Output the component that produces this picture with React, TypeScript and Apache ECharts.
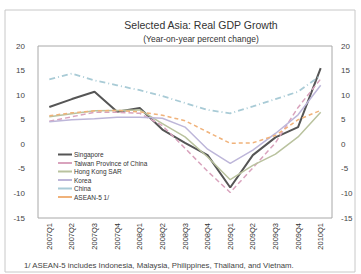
import React, { useEffect, useRef } from "react";
import * as echarts from "echarts";

const categories = [
  "2007Q1", "2007Q2", "2007Q3", "2007Q4",
  "2008Q1", "2008Q2", "2008Q3", "2008Q4",
  "2009Q1", "2009Q2", "2009Q3", "2009Q4", "2010Q1",
];
const singapore = [7.6, 9.2, 10.7, 6.6, 7.4, 3.0, 0.3, -2.2, -8.8, -2.2, 1.4, 3.5, 15.5];
const taiwan = [4.7, 5.6, 6.5, 6.5, 6.3, 3.8, -0.8, -5.5, -9.8, -4.8, 0.3, 7.5, 13.3];
const hongKong = [5.6, 6.2, 6.8, 6.9, 7.0, 4.2, 1.5, -2.6, -7.2, -4.3, -2.0, 1.5, 6.5];
const korea = [4.6, 5.0, 5.2, 5.5, 5.5, 5.3, 3.5, -1.0, -3.9, -1.2, 2.2, 6.0, 12.0];
const china = [13.2, 14.4, 13.0, 12.0, 11.0, 9.8, 8.4, 7.0, 6.3, 7.7, 9.2, 10.7, 14.0];
const asean5 = [5.8, 6.4, 6.8, 6.9, 6.6, 5.9, 4.8, 2.5, 0.2, 0.3, 1.8, 5.0, 6.9];

const title = "Selected Asia: Real GDP Growth";
const subtitle = "(Year-on-year percent change)";
const footnote = "1/ ASEAN-5 includes Indonesia, Malaysia, Philippines, Thailand, and Vietnam.";

export default function App() {
  const ref = useRef<HTMLDivElement>(null);
  useEffect(() => {
    document.body.style.margin = "0";
    if (!ref.current) return;
    const chart = echarts.init(ref.current, undefined, { renderer: "svg" });
    const font = "Liberation Sans, Arial, sans-serif";
    const yAxisBase = {
      type: "value",
      min: -15,
      max: 20,
      interval: 5,
      axisLine: { show: false },
      axisTick: { show: false },
      splitLine: { show: false },
      axisLabel: { fontSize: 8, color: "#444", fontFamily: font },
    };
    const mk = (name: string, data: number[], color: string, width: number, type: any) => ({
      name,
      type: "line",
      data,
      symbol: "none",
      lineStyle: { color, width, type },
      itemStyle: { color },
    });
    chart.setOption({
      animation: false,
      backgroundColor: "#fff",
      textStyle: { fontFamily: font },
      title: [
        {
          text: title,
          left: 196,
          top: 14,
          textAlign: "center",
          textStyle: { fontSize: 10.5, fontWeight: "normal", color: "#333", fontFamily: font },
        },
        {
          text: subtitle,
          left: 196,
          top: 29,
          textAlign: "center",
          textStyle: { fontSize: 8.5, fontWeight: "normal", color: "#333", fontFamily: font },
        },
      ],
      legend: {
        orient: "vertical",
        left: 53,
        top: 146,
        itemWidth: 14,
        itemHeight: 4,
        itemGap: 1.5,
        textStyle: { fontSize: 6.5, color: "#333", fontFamily: font, padding: [0, 0, 0, -3] },
        icon: "path://M0,0 L14,0 L14,2 L0,2 Z",
        data: ["Singapore", "Taiwan Province of China", "Hong Kong SAR", "Korea", "China", "ASEAN-5 1/"],
      },
      grid: {
        left: 38,
        top: 46,
        width: 294,
        height: 172,
        show: true,
        borderColor: "#a8a8a8",
        borderWidth: 1,
        backgroundColor: "transparent",
      },
      xAxis: {
        type: "category",
        data: categories,
        boundaryGap: true,
        axisLine: { show: false },
        axisTick: { show: false },
        axisLabel: { rotate: 90, fontSize: 7.5, color: "#333", margin: 5, interval: 0, fontFamily: font },
      },
      yAxis: [
        { ...yAxisBase, position: "left", axisLabel: { ...yAxisBase.axisLabel, margin: 13 } },
        { ...yAxisBase, position: "right", axisLabel: { ...yAxisBase.axisLabel, margin: 9 } },
      ],
      series: [
        mk("Singapore", singapore, "#555555", 2, "solid"),
        mk("Taiwan Province of China", taiwan, "#d9a3bd", 1.5, [5, 3]),
        mk("Hong Kong SAR", hongKong, "#b9c29e", 1.5, "solid"),
        mk("Korea", korea, "#bdb6d9", 1.5, "solid"),
        mk("China", china, "#a9cbd6", 1.8, [6, 3, 1, 3]),
        mk("ASEAN-5 1/", asean5, "#f0b27a", 1.5, [4, 3]),
      ],
      graphic: [
        {
          type: "rect",
          shape: { x: 5, y: 10, width: 350, height: 262 },
          style: { fill: "none", stroke: "#c8c8c8", lineWidth: 1 },
          silent: true,
        },
        {
          type: "text",
          left: 24,
          top: 261,
          style: { text: footnote, fontSize: 7.8, fill: "#444", fontFamily: font },
        },
      ],
    });
    return () => chart.dispose();
  }, []);
  return <div ref={ref} style={{ width: 361, height: 274 }} />;
}
